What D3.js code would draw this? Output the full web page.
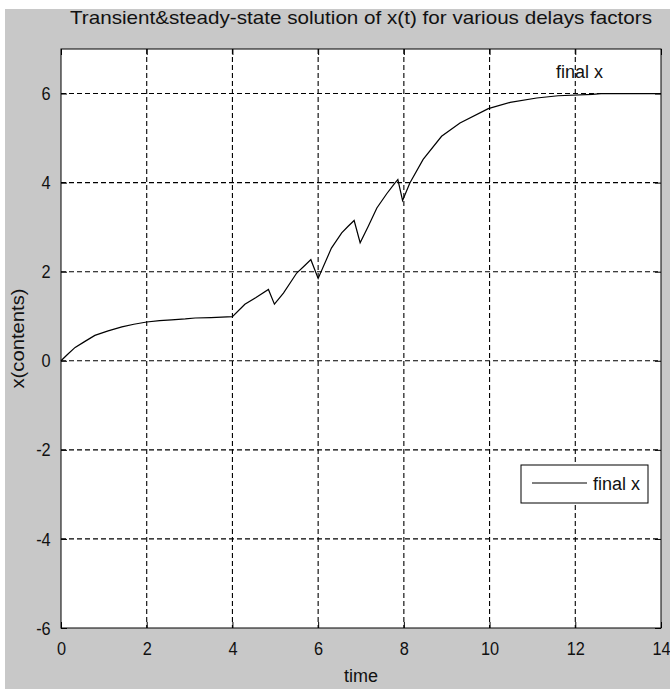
<!DOCTYPE html>
<meta charset="utf-8">
<script src="https://d3js.org/d3.v7.min.js"></script>
<style>
  body { margin: 0; background: #fff; }
  text { font-family: "Liberation Sans", Arial, sans-serif; fill: #111; }
</style>
<div id="my_dataviz"></div>
<script>

// data
var time = [0, 0.15, 0.33, 0.55, 0.79, 1.1, 1.42, 1.7, 2.0, 2.3, 2.58, 2.9, 3.13, 3.5, 4.0,
  4.29, 4.55, 4.84, 4.98,
  5.19, 5.5, 5.7, 5.83, 6.0,
  6.31, 6.55, 6.7, 6.84, 6.98,
  7.17, 7.37, 7.6, 7.79, 7.86, 7.97,
  8.14, 8.45, 8.88, 9.31, 9.97, 10.48, 11.1, 11.6, 12.4, 12.6, 14];
var finalX = [0, 0.14, 0.3, 0.43, 0.57, 0.67, 0.76, 0.82, 0.87, 0.9, 0.92, 0.94, 0.96, 0.97, 0.99,
  1.27, 1.42, 1.6, 1.27,
  1.52, 1.97, 2.15, 2.27, 1.85,
  2.53, 2.87, 3.02, 3.15, 2.65,
  3.02, 3.43, 3.75, 3.99, 4.07, 3.6,
  3.99, 4.52, 5.04, 5.34, 5.66, 5.8, 5.9, 5.95, 5.98, 6.0, 6.0];
var xTicks = [0, 2, 4, 6, 8, 10, 12, 14];
var yTicks = [-6, -4, -2, 0, 2, 4, 6];

var W = 670, H = 689;
var margin = {top: 49, right: 9, bottom: 61, left: 61},
    width = W - margin.left - margin.right,
    height = H - margin.top - margin.bottom;

var root = d3.select("#my_dataviz").append("svg")
    .attr("width", W).attr("height", H);

// figure background
root.append("rect").attr("x", 5).attr("y", 9)
    .attr("width", W - 5).attr("height", H - 9).attr("fill", "#c8c8c8");

var svg = root.append("g")
    .attr("transform", "translate(" + margin.left + "," + margin.top + ")");

var x = d3.scaleLinear().domain([0, 14]).range([0, width]);
var y = d3.scaleLinear().domain([-6, 7]).range([height, 0]);

svg.append("rect").attr("width", width).attr("height", height).attr("fill", "#fff");

// grid
svg.append("g").selectAll("line").data(xTicks.slice(1, -1)).enter().append("line")
    .attr("x1", d => x(d)).attr("x2", d => x(d)).attr("y1", 0).attr("y2", height)
    .attr("stroke", "#000").attr("stroke-width", 1.1).attr("stroke-dasharray", "5,3");
svg.append("g").selectAll("line").data(yTicks.slice(1)).enter().append("line")
    .attr("y1", d => y(d)).attr("y2", d => y(d)).attr("x1", 0).attr("x2", width)
    .attr("stroke", "#000").attr("stroke-width", 1.1).attr("stroke-dasharray", "5,3");

// axes (ticks inward), plain hyphen for negatives like the original
var fmt = function(d) { return String(d); };
var xAxis = svg.append("g").attr("transform", "translate(0," + height + ")")
    .call(d3.axisBottom(x).tickValues(xTicks).tickFormat(fmt).tickSizeInner(-6).tickSizeOuter(0).tickPadding(14));
var xTop = svg.append("g")
    .call(d3.axisTop(x).tickValues(xTicks).tickSizeInner(-6).tickSizeOuter(0).tickFormat(""));
var yAxis = svg.append("g")
    .call(d3.axisLeft(y).tickValues(yTicks).tickFormat(fmt).tickSizeInner(-6).tickSizeOuter(0).tickPadding(12));
var yRight = svg.append("g").attr("transform", "translate(" + width + ",0)")
    .call(d3.axisRight(y).tickValues(yTicks).tickSizeInner(-6).tickSizeOuter(0).tickFormat(""));
[xAxis, xTop, yAxis, yRight].forEach(function(a) {
  a.select(".domain").remove();
  a.selectAll("line").attr("stroke", "#000");
  // narrow, tall digits
  a.selectAll("text").style("font-size", "19px").attr("fill", "#111")
    .attr("transform", "scale(0.86,1)");
});

svg.append("rect").attr("width", width).attr("height", height)
    .attr("fill", "none").attr("stroke", "#000").attr("stroke-width", 1);

// curve
var line = d3.line().x(d => x(d[0])).y(d => y(d[1]));
svg.append("path").datum(d3.zip(time, finalX))
    .attr("d", line).attr("fill", "none").attr("stroke", "#000").attr("stroke-width", 1.2);

// annotation
svg.append("text").attr("x", x(11.55)).attr("y", y(6.5)).attr("dy", "0.35em")
    .style("font-size", "18px").text("final x");

// legend
var lg = svg.append("g").attr("transform", "translate(" + (521 - margin.left) + "," + (465 - margin.top) + ")");
lg.append("rect").attr("width", 127).attr("height", 38).attr("fill", "#fff").attr("stroke", "#000");
lg.append("line").attr("x1", 11).attr("x2", 66).attr("y1", 18).attr("y2", 18).attr("stroke", "#000");
lg.append("text").attr("x", 72).attr("y", 19).attr("dy", "0.35em").style("font-size", "18px").text("final x");

// title and labels
root.append("text").attr("x", margin.left + width / 2).attr("y", 17).attr("dy", "0.35em")
    .attr("text-anchor", "middle").style("font-size", "19px")
    .attr("textLength", 582).attr("lengthAdjust", "spacingAndGlyphs")
    .text("Transient&steady-state solution of x(t) for various delays factors");
root.append("text").attr("x", margin.left + width / 2).attr("y", 676).attr("dy", "0.35em")
    .attr("text-anchor", "middle").style("font-size", "18px").text("time");
root.append("text").attr("transform", "translate(18," + (margin.top + height / 2) + ") rotate(-90)")
    .attr("dy", "0.35em").attr("text-anchor", "middle").style("font-size", "18px")
    .attr("textLength", 100).attr("lengthAdjust", "spacingAndGlyphs").text("x(contents)");

</script>
